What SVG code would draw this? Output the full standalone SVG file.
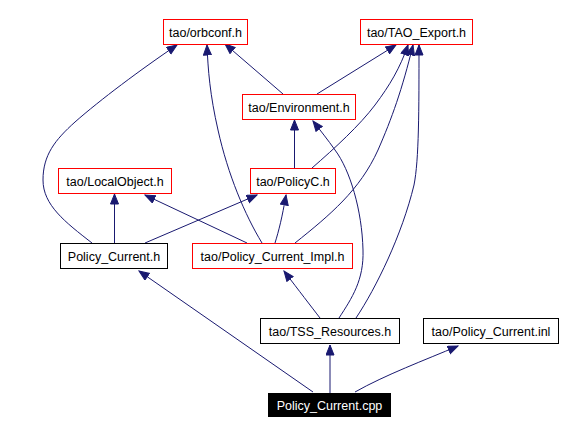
<svg xmlns="http://www.w3.org/2000/svg" width="563" height="435" viewBox="0 0 563 435">
<style>
.n rect{fill:#fff;stroke-width:1}
.r rect{stroke:#ff0000}
.b rect{stroke:#000}
text{font-family:"Liberation Sans",Arial,sans-serif;font-size:12.5px;text-anchor:middle;fill:#000}
.e path{fill:none;stroke:#191970;stroke-width:1;marker-end:url(#a)}
</style>
<defs>
<marker id="a" markerUnits="userSpaceOnUse" markerWidth="12" markerHeight="10" refX="10.5" refY="4.5" orient="auto">
<path d="M0.5,0.5 L10.5,4.5 L0.5,8.5 z" fill="#191970" stroke="#191970" stroke-width="1"/>
</marker>
</defs>
<rect width="563" height="435" fill="#fff"/>
<g class="e" id="edges">
<path d="M330,393 L330,345"/>
<path d="M355,392 C385,375 425,360 458,346"/>
<path d="M313,392 L139,271"/>
<path d="M320,318 C310,305 300,292 284,271"/>
<path d="M339,318 C352,298 364,280 363,250 C362,210 350,170 335,150 C328,140 320,130 313,121"/>
<path d="M356,318 C376,288 402,235 414,185 C419,160 419,110 419,45"/>
<path d="M247,243 L145,195"/>
<path d="M275,243 C279,230 282,218 286,195"/>
<path d="M262,243 C245,215 228,175 218,130 C210,95 208,70 207,45"/>
<path d="M295,243 C330,215 360,190 378,150 C392,118 402,90 413,45"/>
<path d="M312,168 C335,148 360,125 375,105 C390,85 400,68 408,45"/>
<path d="M114.5,243 L114.5,194"/>
<path d="M145,243 L257,195"/>
<path d="M92,243 C65,222 43,205 43,180 C43,155 55,140 75,122 C100,100 140,70 177,45"/>
<path d="M294.5,168 L294.5,120"/>
<path d="M283,94 L225,44"/>
<path d="M317,94 L396,45"/>
</g>
<g id="orbconf" class="n r"><rect x="163.5" y="19.5" width="84" height="25"/><text x="205.5" y="36.5">tao/orbconf.h</text></g>
<g id="taoexport" class="n r"><rect x="360.5" y="19.5" width="112" height="25"/><text x="416.5" y="36.5">tao/TAO_Export.h</text></g>
<g id="environment" class="n r"><rect x="242.5" y="94.5" width="113" height="25"/><text x="299" y="111.5">tao/Environment.h</text></g>
<g id="localobject" class="n r"><rect x="58.5" y="168.5" width="113" height="25"/><text x="115" y="185.5">tao/LocalObject.h</text></g>
<g id="policyc" class="n r"><rect x="250.5" y="168.5" width="85" height="25"/><text x="293" y="185.5">tao/PolicyC.h</text></g>
<g id="policycurrenth" class="n b"><rect x="60.5" y="243.5" width="107" height="25"/><text x="114" y="260.5">Policy_Current.h</text></g>
<g id="policycurrentimpl" class="n r"><rect x="192.5" y="243.5" width="160" height="25"/><text x="272.5" y="260.5">tao/Policy_Current_Impl.h</text></g>
<g id="tssresources" class="n b"><rect x="260.5" y="318.5" width="139" height="25"/><text x="330" y="335.5">tao/TSS_Resources.h</text></g>
<g id="policycurrentinl" class="n b"><rect x="423.5" y="318.5" width="135" height="25"/><text x="491" y="335.5">tao/Policy_Current.inl</text></g>
<g id="policycurrentcpp"><rect x="268" y="393" width="123" height="24" fill="#000"/><text x="329.5" y="410" fill="#fff" style="fill:#fff">Policy_Current.cpp</text></g>
</svg>
